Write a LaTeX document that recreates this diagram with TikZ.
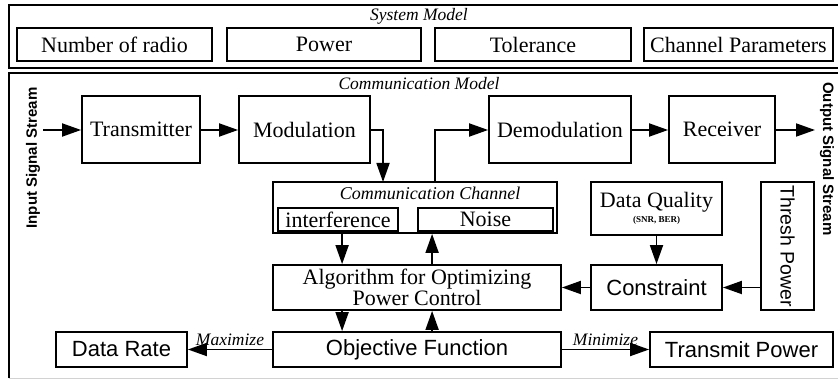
\documentclass[tikz,border=0pt]{standalone}
\usepackage{fontspec}
\setmainfont{Liberation Serif}
\setsansfont{Liberation Sans}
\usetikzlibrary{arrows.meta,calc}

\begin{document}
\begin{tikzpicture}[x=1pt,y=-1pt,
  box/.style={draw, line width=1.8pt, inner sep=0pt, align=center},
  outer/.style={line width=2pt},
  serif/.style={font=\fontsize{22}{21}\selectfont},
  sans/.style={font=\sffamily\fontsize{22}{22}\selectfont},
  ttl/.style={font=\itshape\fontsize{17.5}{18}\selectfont},
  side/.style={font=\sffamily\bfseries\fontsize{15}{15}\selectfont},
  arr/.style={line width=1.8pt, -{Triangle[length=19pt,width=13pt]}},
  lbl/.style={font=\itshape\fontsize{17.5}{18}\selectfont, above, inner sep=3pt}
]
\useasboundingbox (0,0) rectangle (838,379);
\clip (0,0) rectangle (838,379);
\fill[white] (0,0) rectangle (838,379);

% ---- System model panel ----
\node[draw, outer, inner sep=0pt, minimum width=836pt, minimum height=63pt] (sys) at (427,36.5) {};
\node[ttl] (systtl) at (419,16) {System Model};
\node[box, serif, minimum width=195pt, minimum height=33pt] (nradio) at (114.5,44.5) {Number of radio};
\node[box, serif, minimum width=194pt, minimum height=33pt] (power)  at (324,44.5) {Power};
\node[box, serif, minimum width=196pt, minimum height=33pt] (tol)    at (533,44.5) {Tolerance};
\node[box, serif, minimum width=189pt, minimum height=33pt] (chpar)  at (738.5,44.5) {Channel Parameters};

% ---- Communication model panel ----
\node[inner sep=0pt, minimum width=836pt, minimum height=305pt] (comm) at (427,225.5) {};
\draw[outer] (comm.south west) -- (comm.north west) -- (comm.north east);
\draw[gray!35, line width=1.2pt] (comm.south west) -- (comm.south east);
\node[ttl] (commttl) at (419,84) {Communication Model};

\node[side, rotate=90] (insig) at (33,158) {Input Signal Stream};
\node[side, rotate=-90] (outsig) at (827,159) {Output Signal Stream};

\node[box, serif, minimum width=118pt, minimum height=67pt] (tx)    at (141,129.5) {Transmitter};
\node[box, serif, minimum width=131pt, minimum height=67pt] (mod)   at (304.5,129.5) {Modulation};
\node[box, serif, minimum width=142pt, minimum height=67pt] (demod) at (560,129.5) {Demodulation};
\node[box, serif, minimum width=106pt, minimum height=67pt] (rx)    at (722,129.5) {Receiver};

% communication channel with its two effects
\node[box, minimum width=284pt, minimum height=51pt] (chan) at (415,207.5) {};
\node[ttl, font=\itshape\fontsize{18}{18}\selectfont] (chanttl) at (430,193) {Communication Channel};
\node[box, serif, minimum width=120pt, minimum height=23pt] (interf) at (338,219.5) {interference};
\node[box, serif, minimum width=135pt, minimum height=23pt] (noise)  at (485.5,219.5) {Noise};

% data quality and threshold
\node[box, minimum width=131pt, minimum height=53pt] (dq) at (656.5,208.5) {};
\node[serif] (dqt) at (656.5,202) {Data Quality};
\node[font=\bfseries\fontsize{9}{9}\selectfont] (dqs) at (656.5,220) {(SNR, BER)};
\node[box, minimum width=53pt, minimum height=128pt] (thresh) at (787.5,246) {};
\node[sans, font=\sffamily\fontsize{19.5}{20}\selectfont, rotate=-90] (thresht) at (thresh.center) {Thresh Power};

\node[box, sans, minimum width=131pt, minimum height=45pt] (cons) at (656.5,287.5) {Constraint};
\node[box, serif, minimum width=288pt, minimum height=45pt] (algo) at (417,287.5) {Algorithm for Optimizing\\Power Control};

\node[box, sans, minimum width=288pt, minimum height=35pt] (obj)   at (417,349.5) {Objective Function};
\node[box, sans, minimum width=131pt, minimum height=35pt] (drate) at (121.5,349.5) {Data Rate};
\node[box, sans, minimum width=183pt, minimum height=35pt] (tpow)  at (741.5,349.5) {Transmit Power};

% ---- signal path ----
\coordinate (inS) at (43,130);
\coordinate (outE) at (815,130);
\coordinate (m2c) at (383,182);
\coordinate (c2d) at (435,182);

\draw[arr] (inS) -- (tx.west |- inS);
\draw[arr] (tx.east |- inS) -- (mod.west |- inS);
\draw[arr] (mod.east |- inS) -| (m2c);
\draw[arr] (c2d) |- (demod.west |- inS);
\draw[arr] (demod.east |- inS) -- (rx.west |- inS);
\draw[arr] (rx.east |- inS) -- (outE);

% ---- optimisation loop ----
\draw[arr] ($(chan.south west)+(70,0)$) -- ($(algo.north west)+(70,0)$);
\draw[arr] ($(algo.north west)+(160,0)$) -- ($(chan.south west)+(160,0)$);
\draw[arr] (dq.south) -- (cons.north);
\draw[arr] (thresh.west |- cons.east) -- (cons.east);
\draw[arr] (cons.west) -- (algo.east);
\draw[arr] ($(algo.south west)+(70,0)$) -- ($(obj.north west)+(70,0)$);
\draw[arr] ($(obj.north west)+(160,0)$) -- ($(algo.south west)+(160,0)$);
\draw[arr] (obj.west) -- node[lbl] (maxl) {Maximize} (drate.east);
\draw[arr] (obj.east) -- node[lbl] (minl) {Minimize} (tpow.west);
\end{tikzpicture}
\end{document}
